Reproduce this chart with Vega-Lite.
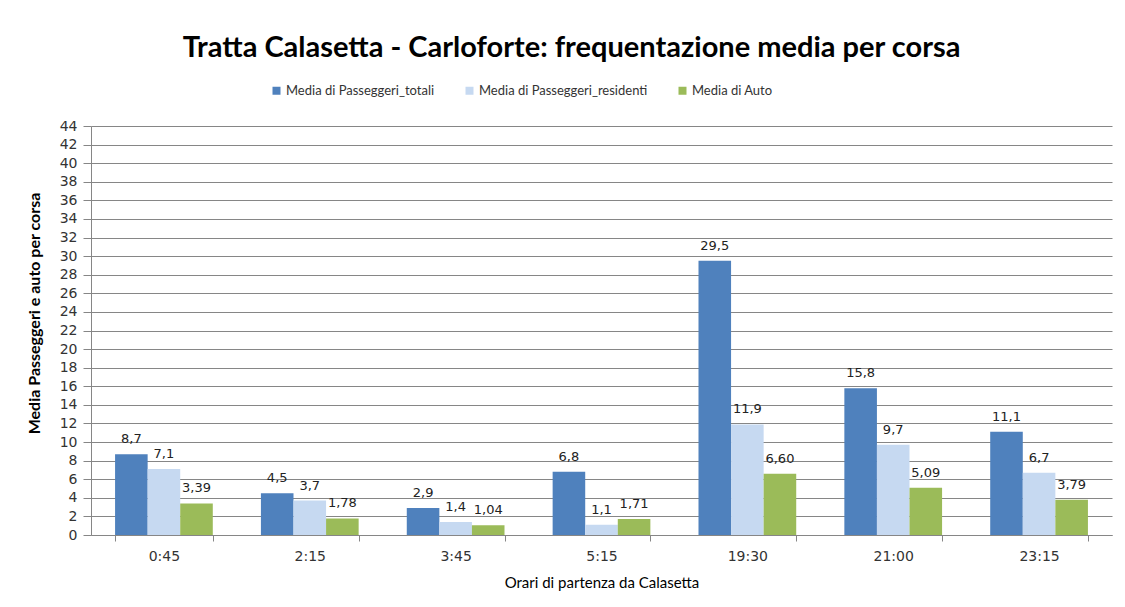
{
  "$schema": "https://vega.github.io/schema/vega-lite/v6.json",
  "width": 1021,
  "height": 409,
  "autosize": {"type": "none"},
  "padding": {"left": 91, "top": 126, "right": 13, "bottom": 72},
  "background": "white",
  "config": {
    "locale": {"number": {"decimal": ",", "thousands": ".", "grouping": [3], "currency": ["", " €"]}},
    "font": "Lato",
    "view": {"stroke": null},
    "axis": {"labelFont": "DejaVu Sans", "titleFont": "Lato", "labelFontSize": 14, "labelColor": "#333333", "titleColor": "#000000", "domainColor": "#868686", "tickColor": "#868686", "gridColor": "#868686"}
  },
  "title": {
    "text": "Tratta Calasetta - Carloforte: frequentazione media per corsa",
    "font": "Lato",
    "fontSize": 29,
    "fontWeight": "bold",
    "color": "#000000",
    "anchor": "middle",
    "dx": -30,
    "offset": 21
  },
  "data": {
    "values": [
      {"orario": "0:45", "serie": "Media di Passeggeri_totali", "valore": 8.7},
      {"orario": "0:45", "serie": "Media di Passeggeri_residenti", "valore": 7.1},
      {"orario": "0:45", "serie": "Media di Auto", "valore": 3.39},
      {"orario": "2:15", "serie": "Media di Passeggeri_totali", "valore": 4.5},
      {"orario": "2:15", "serie": "Media di Passeggeri_residenti", "valore": 3.7},
      {"orario": "2:15", "serie": "Media di Auto", "valore": 1.78},
      {"orario": "3:45", "serie": "Media di Passeggeri_totali", "valore": 2.9},
      {"orario": "3:45", "serie": "Media di Passeggeri_residenti", "valore": 1.4},
      {"orario": "3:45", "serie": "Media di Auto", "valore": 1.04},
      {"orario": "5:15", "serie": "Media di Passeggeri_totali", "valore": 6.8},
      {"orario": "5:15", "serie": "Media di Passeggeri_residenti", "valore": 1.1},
      {"orario": "5:15", "serie": "Media di Auto", "valore": 1.71},
      {"orario": "19:30", "serie": "Media di Passeggeri_totali", "valore": 29.5},
      {"orario": "19:30", "serie": "Media di Passeggeri_residenti", "valore": 11.9},
      {"orario": "19:30", "serie": "Media di Auto", "valore": 6.60},
      {"orario": "21:00", "serie": "Media di Passeggeri_totali", "valore": 15.8},
      {"orario": "21:00", "serie": "Media di Passeggeri_residenti", "valore": 9.7},
      {"orario": "21:00", "serie": "Media di Auto", "valore": 5.09},
      {"orario": "23:15", "serie": "Media di Passeggeri_totali", "valore": 11.1},
      {"orario": "23:15", "serie": "Media di Passeggeri_residenti", "valore": 6.7},
      {"orario": "23:15", "serie": "Media di Auto", "valore": 3.79}
    ]
  },
  "encoding": {
    "x": {
      "field": "orario",
      "type": "nominal",
      "sort": ["0:45", "2:15", "3:45", "5:15", "19:30", "21:00", "23:15"],
      "scale": {"paddingInner": 0.33, "paddingOuter": 0.165},
      "axis": {
        "title": "Orari di partenza da Calasetta",
        "titleFontSize": 15,
        "titleFontWeight": "normal",
        "titlePadding": 12,
        "labelAngle": 0,
        "labelPadding": 8,
        "tickSize": 6,
        "tickBand": "extent",
        "grid": false
      }
    },
    "xOffset": {
      "field": "serie",
      "type": "nominal",
      "sort": ["Media di Passeggeri_totali", "Media di Passeggeri_residenti", "Media di Auto"],
      "scale": {"paddingInner": 0, "paddingOuter": 0}
    },
    "y": {
      "field": "valore",
      "type": "quantitative",
      "scale": {"domain": [0, 44], "nice": false},
      "axis": {
        "title": "Media Passeggeri e auto per corsa",
        "titleFontSize": 16,
        "titleFontWeight": "bold",
        "titlePadding": 17,
        "titleY": 187,
        "values": [0, 2, 4, 6, 8, 10, 12, 14, 16, 18, 20, 22, 24, 26, 28, 30, 32, 34, 36, 38, 40, 42, 44],
        "tickSize": 8,
        "labelPadding": 6,
        "grid": true,
        "format": "d"
      }
    }
  },
  "layer": [
    {
      "mark": {"type": "bar"},
      "encoding": {
        "color": {
          "field": "serie",
          "type": "nominal",
          "sort": ["Media di Passeggeri_totali", "Media di Passeggeri_residenti", "Media di Auto"],
          "scale": {"domain": ["Media di Passeggeri_totali", "Media di Passeggeri_residenti", "Media di Auto"], "range": ["#4F81BD", "#C6D9F1", "#9BBB59"]},
          "legend": {
            "title": null,
            "orient": "none",
            "direction": "horizontal",
            "legendX": 179,
            "legendY": -42,
            "symbolType": "square",
            "symbolSize": 64,
            "symbolStrokeWidth": 0,
            "labelFont": "Lato",
            "labelFontSize": 13,
            "labelColor": "#333333",
            "labelOffset": 3,
            "labelLimit": 0,
            "columnPadding": 28
          }
        }
      }
    },
    {
      "transform": [{"filter": "datum.serie !== 'Media di Auto'"}],
      "mark": {"type": "text", "baseline": "alphabetic", "dy": -11, "font": "DejaVu Sans", "fontSize": 13, "color": "#222222"},
      "encoding": {"text": {"field": "valore", "type": "quantitative", "format": ".1f"}}
    },
    {
      "transform": [{"filter": "datum.serie === 'Media di Auto'"}],
      "mark": {"type": "text", "baseline": "alphabetic", "dy": -11, "font": "DejaVu Sans", "fontSize": 13, "color": "#222222"},
      "encoding": {"text": {"field": "valore", "type": "quantitative", "format": ".2f"}}
    }
  ]
}
